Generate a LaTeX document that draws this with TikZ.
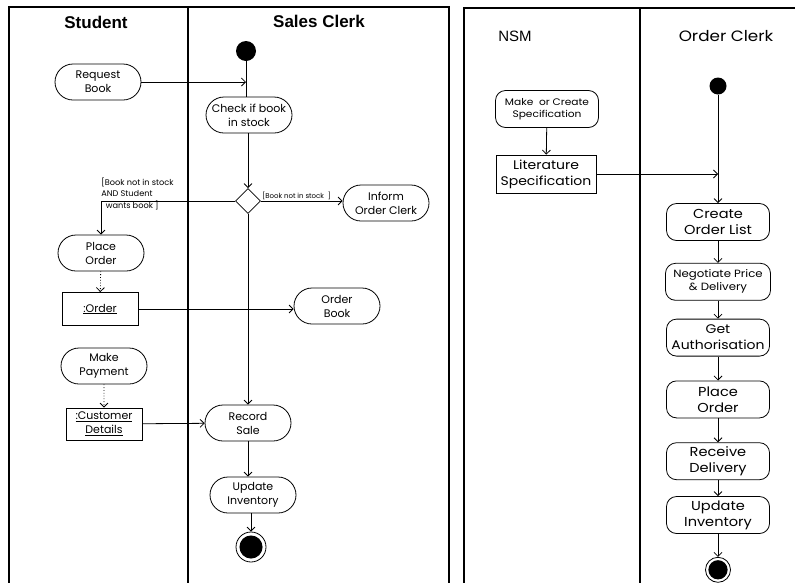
\documentclass[tikz,border=0pt]{standalone}
\usepackage{fontspec}
\setmainfont{Poppins}
\newfontfamily\headfont{Liberation Sans}
\newfontfamily\widefont[FakeStretch=1.12]{Poppins}
\usetikzlibrary{%
  positioning
 ,arrows.meta
 ,shapes.misc
 ,shapes.geometric
 ,calc
}
\tikzstyle{act}=[draw,rounded rectangle,minimum width=88pt,minimum height=36pt,inner sep=1pt,align=center,font=\fontsize{11}{14}\selectfont]
\tikzstyle{objbox}=[draw,rectangle,minimum width=76pt,minimum height=33pt,inner sep=2pt,align=center,font=\fontsize{11}{14}\selectfont]
\tikzstyle{ocact}=[draw,rectangle,rounded corners=10pt,minimum width=103pt,minimum height=37pt,inner sep=1pt,align=center,font=\widefont\fontsize{13}{16}\selectfont]
\tikzstyle{initst}=[circle,fill=black,inner sep=0pt,minimum size=20pt]
\tikzstyle{dec}=[draw,diamond,minimum width=25pt,minimum height=25pt,inner sep=0pt]
\tikzstyle{guard}=[inner sep=0pt,align=left,font=\fontsize{8.2}{11.5}\selectfont]
\tikzstyle{lane}=[line width=2pt]
\tikzset{finst/.style={circle,draw,inner sep=0pt,minimum size=#1,
  path picture={\fill (path picture bounding box.center) circle ({0.385*#1});}}}

\begin{document}
\begin{tikzpicture}[x=1pt,y=-1pt,line width=0.8pt,>={Straight Barb[length=4pt,width=8pt]}]
  \useasboundingbox (0,0) rectangle (795,582);
  % swimlanes
  \draw[lane] (9,590) |- (449,7) -- (449,590);
  \draw[lane] (188,7) -- (188,590);
  \draw[lane] (464,590) |- (800,8);
  \draw[lane] (640,8) -- (640,590);
  \node[font=\headfont\bfseries\fontsize{17}{20}\selectfont] (student) at (96,22) {Student};
  \node[font=\headfont\bfseries\fontsize{17}{20}\selectfont] (salesclerk) at (319,21) {Sales Clerk};
  \node[font=\headfont\fontsize{15}{20}\selectfont] (nsm) at (515,36) {NSM};
  \node[font=\widefont\fontsize{15}{20}\selectfont] (orderclerk) at (726,36) {Order Clerk};
%
  \node[initst] (s_0) at (246,51) {};
  \node[act] (reqbook) at (98,82) {Request\\Book};
  \node[act] (check) at (249,115) {Check if book\\in stock};
  \node[dec] (choice) at (248,201) {};
  \node[act] (inform) at (386,203) {Inform\\Order Clerk};
  \node[act] (placeord) at (101,253) {Place\\Order};
  \node[objbox] (order) at (100,309) {\underline{:Order}};
  \node[act] (ordbook) at (337,306) {Order\\Book};
  \node[act] (payment) at (104,366) {Make\\Payment};
  \node[objbox,minimum height=32pt] (custdet) at (104,424) {\underline{:Customer}\\\underline{Details}};
  \node[act] (recsale) at (248,423) {Record\\Sale};
  \node[act] (updinv) at (253,495) {Update\\Inventory};
  \node[finst=30pt] (s_end) at (251,547) {};
  \node[guard,anchor=north west] (g_yes) at (101,177) {[Book not in stock\\AND Student\\\ \ wants book ]};
  \node[guard,anchor=south west,font=\fontsize{7}{9}\selectfont] (g_no) at (262,200) {[Book not in stock\ \ ]};
% 
  \draw (s_0) -- (s_0 |- check.north);
  \draw[->] (reqbook.east) -- (reqbook.east -| s_0);
  \draw[->] (check.south -| choice) -- (choice.north);
  \draw[->] (choice.west) -| (placeord.north);
  \draw[->] (choice.east) -- (choice.east -| inform.west);
  \draw[->,dotted] (placeord) -- (order);
  \draw[->] (order.east) -- (order.east -| ordbook.west);
  \draw[->] (choice.south) -- (recsale.north);
  \draw[->,dotted] (payment) -- (custdet);
  \draw[->] (custdet) -- (recsale);
  \draw[->] (recsale.south) -- (recsale.south |- updinv.north);
  \draw[->] (updinv.south -| s_end) -- (s_end);
%
  \node[initst,minimum size=17pt] (t_0) at (718,86) {};
  \node[ocact,font=\widefont\fontsize{9.5}{12}\selectfont] (mkspec) at (547,109) {Make\ \ or Create\\Specification};
  \node[draw,rectangle,minimum width=100pt,minimum height=38pt,inner sep=1pt,align=center,font=\widefont\fontsize{12.5}{16}\selectfont] (litspec) at (546,174) {Literature\\Specification};
  \node[ocact] (colist) at (718,222) {Create\\Order List};
  \node[ocact,minimum width=105pt,font=\widefont\fontsize{10.5}{13}\selectfont] (negot) [below=22pt of colist] {Negotiate Price\\\& Delivery};
  \node[ocact,font=\widefont\fontsize{12.5}{16}\selectfont] (getauth) [below=18pt of negot] {Get\\Authorisation};
  \node[ocact] (placeoc) [below=24pt of getauth] {Place\\Order};
  \node[ocact] (recdel) [below=24pt of placeoc] {Receive\\Delivery};
  \node[ocact] (updinvoc) [below=16pt of recdel] {Update\\Inventory};
  \node[finst=25pt] (t_end) [below=23pt of updinvoc] {};
%
  \draw[->] (t_0) -- (colist);
  \draw[->] (mkspec) -- (litspec);
  \draw[->] (litspec.east) -- (litspec.east -| t_0);
  \draw[->] (colist) -- (negot);
  \draw[->] (negot) -- (getauth);
  \draw[->] (getauth) -- (placeoc);
  \draw[->] (placeoc) -- (recdel);
  \draw[->] (recdel) -- (updinvoc);
  \draw[->] (updinvoc) -- (t_end);
\end{tikzpicture}
\end{document}
